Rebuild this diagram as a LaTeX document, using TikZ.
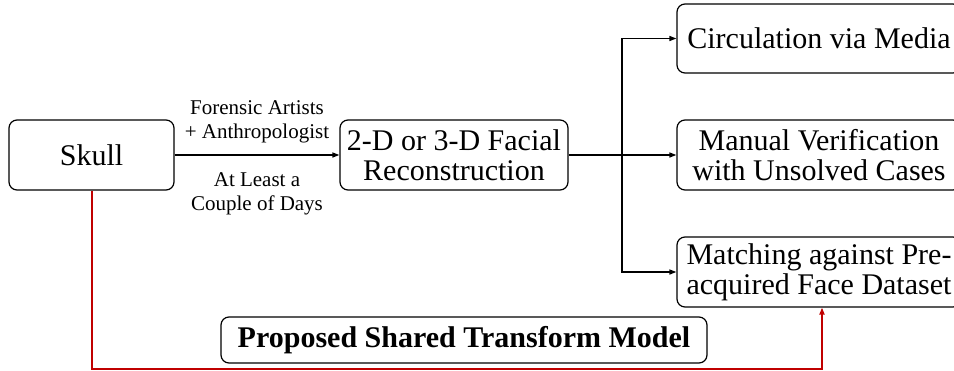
\documentclass[tikz,border=0pt]{standalone}
\usepackage{fontspec}
\setmainfont{Liberation Serif}
\usetikzlibrary{arrows.meta}
\definecolor{darkred}{RGB}{192,0,0}
\begin{document}
\begin{tikzpicture}[x=1pt,y=-1pt,
  box/.style={draw, rounded corners=8pt, line width=1.2pt, align=center, inner sep=0pt,
    font=\fontsize{30}{30}\selectfont},
  lbl/.style={font=\fontsize{21}{24}\selectfont, align=center, inner sep=0pt},
  arr/.style={-{Triangle[length=7pt,width=5pt]}, line width=1.5pt},
  redline/.style={draw=darkred, line width=2pt, -{Triangle[length=7pt,width=5pt]}}]
\useasboundingbox (0,0) rectangle (954,370);
\clip (0,0) rectangle (954,370);
\node[box, minimum width=165pt, minimum height=70pt] (skull) at (91.5,155) {Skull};
\node[box, minimum width=228pt, minimum height=70pt] (recon) at (454,155) {2-D or 3-D Facial\\Reconstruction};
\node[box, minimum width=284pt, minimum height=69pt] (circ) at (819,38.5) {Circulation via Media};
\node[box, minimum width=284pt, minimum height=70pt] (manual) at (819,155) {Manual Verification\\with Unsolved Cases};
\node[box, minimum width=284pt, minimum height=70pt] (match) at (819,272) {Matching against Pre-\\acquired Face Dataset};
\node[box, minimum width=486pt, minimum height=46pt, font=\fontsize{30}{30}\selectfont\bfseries] (prop) at (464,340) {Proposed Shared Transform Model};
\node[lbl] (l1) at (257,122) {Forensic Artists\\+ Anthropologist};
\node[lbl] (l2) at (257,194) {At Least a\\Couple of Days};
\draw[arr] (skull.east) -- (recon.west);
\coordinate (br) at (622,155);
\coordinate (low) at (0,368.5);
\draw[line width=2.6pt] (recon.east) -- (br);
\draw[arr] (br) |- (circ.west);
\draw[arr] (br) -- (manual.west);
\draw[arr] (br) |- (match.west);
\draw[redline] (skull.south) -- (skull.south |- low) -| ([xshift=3pt]match.south);
\end{tikzpicture}
\end{document}
